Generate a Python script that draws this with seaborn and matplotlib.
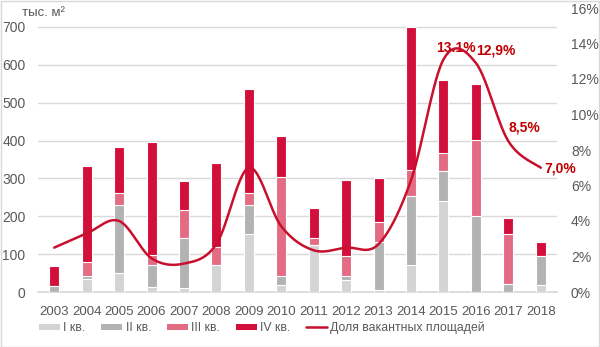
import numpy as np
import pandas as pd
import matplotlib
matplotlib.use("Agg")
import matplotlib.pyplot as plt
import seaborn as sns
from matplotlib.patches import Patch, Rectangle
from matplotlib.lines import Line2D

# ---- data -------------------------------------------------------------
years = [str(y) for y in range(2003, 2019)]
q1 = [0, 34, 50, 13, 11, 70, 153, 18, 125, 33, 6, 70, 240, 0, 0, 18]
q2 = [15, 7, 181, 57, 132, 0, 77, 25, 0, 10, 125, 183, 79, 200, 22, 78]
q3 = [0, 37, 31, 28, 73, 50, 32, 262, 17, 51, 53, 68, 48, 201, 130, 0]
q4 = [53, 254, 121, 297, 76, 220, 275, 107, 81, 202, 117, 379, 192, 147, 44, 37]
vacancy = [2.5, 3.3, 4.0, 1.9, 1.6, 2.7, 7.0, 3.7, 2.35, 2.5, 2.7, 6.3,
           13.1, 12.9, 8.5, 7.0]
label_years = ["2015", "2016", "2017", "2018"]
label_texts = ["13.1%", "12,9%", "8,5%", "7,0%"]
left_ticks = [0, 100, 200, 300, 400, 500, 600, 700]
right_ticks = [0, 2, 4, 6, 8, 10, 12, 14, 16]
series_names = ["I кв.", "II кв.", "III кв.", "IV кв."]
line_name = "Доля вакантных площадей"

# ---- style ------------------------------------------------------------
sns.set_theme(style="white")
plt.rcParams["font.family"] = ["Liberation Sans", "DejaVu Sans"]
TXT = "#595959"
GRID = "#D9D9D9"
colors = ["#D4D4D4", "#B3B3B3", "#E36C84", "#D20F3A"]
LINE = "#C8102E"
LABEL = "#C00000"

fig = plt.figure(figsize=(6.0, 3.47), dpi=100)
ax = fig.add_axes([38 / 600, 55 / 347, (557 - 38) / 600, (292 - 8) / 347])

# stacked bars: draw cumulative totals from the top layer down
df = pd.DataFrame({"year": years, "q1": q1, "q2": q2, "q3": q3, "q4": q4})
df["c1"] = df["q1"]
df["c2"] = df["c1"] + df["q2"]
df["c3"] = df["c2"] + df["q3"]
df["c4"] = df["c3"] + df["q4"]
for col, colr in zip(["c4", "c3", "c2", "c1"], colors[::-1]):
    sns.barplot(data=df, x="year", y=col, color=colr, saturation=1,
                width=0.31, edgecolor="white", linewidth=0.8,
                errorbar=None, ax=ax, zorder=3)

ax.set_xlim(-0.5, len(years) - 0.5)
ax.set_ylim(0, 750)
ax.set_yticks(left_ticks)
ax.set_xlabel("")
ax.set_ylabel("")
ax.grid(axis="y", color=GRID, linewidth=1, zorder=0)
ax.set_axisbelow(True)
for s in ["left", "right", "top"]:
    ax.spines[s].set_visible(False)
ax.spines["bottom"].set_color(GRID)
ax.tick_params(axis="both", length=0, colors=TXT, labelsize=10)
ax.tick_params(axis="x", pad=10, labelsize=9.5)
ax.tick_params(axis="y", pad=9)

# smoothed vacancy line on the secondary axis
ax2 = ax.twinx()
xs = np.arange(len(years), dtype=float)
ys = np.array(vacancy, dtype=float)


def smooth_curve(x, y, n=30):
    px, py = [], []
    N = len(x)
    for i in range(N - 1):
        i0 = max(i - 1, 0)
        i3 = min(i + 2, N - 1)
        p0 = np.array([x[i0], y[i0]])
        p1 = np.array([x[i], y[i]])
        p2 = np.array([x[i + 1], y[i + 1]])
        p3 = np.array([x[i3], y[i3]])
        c1 = p1 + (p2 - p0) / 6
        c2 = p2 - (p3 - p1) / 6
        t = np.linspace(0, 1, n)[:, None]
        pts = ((1 - t) ** 3) * p1 + 3 * ((1 - t) ** 2) * t * c1 \
            + 3 * (1 - t) * t ** 2 * c2 + t ** 3 * p2
        px.extend(pts[:, 0])
        py.extend(pts[:, 1])
    return np.array(px), np.array(py)


sx, sy = smooth_curve(xs, ys)
ax2.plot(sx, sy, color=LINE, linewidth=1.8, solid_capstyle="round", zorder=4)
ax2.set_ylim(0, 16)
ax2.set_yticks(right_ticks)
ax2.set_yticklabels([f"{v}%" for v in right_ticks])
ax2.tick_params(axis="y", length=0, colors=TXT, labelsize=10, pad=10)
ax2.grid(False)
for s in ax2.spines.values():
    s.set_visible(False)

offsets = [(12, 11), (20, 13), (16, 14), (19, -1)]
for yr, txt, off in zip(label_years, label_texts, offsets):
    i = years.index(yr)
    ax2.annotate(txt, (xs[i], ys[i]), xytext=off, textcoords="offset pixels",
                 ha="center", va="center", color=LABEL, fontsize=10,
                 fontweight="bold")

fig.text(22 / 600, 1 - 13 / 347, "тыс. м²", color=TXT, fontsize=9.5,
         ha="left", va="center")

handles = [Patch(facecolor=c, edgecolor="none") for c in colors]
handles.append(Line2D([], [], color=LINE, linewidth=1.8))
fig.legend(handles, series_names + [line_name], loc="center",
           bbox_to_anchor=(262 / 600, 1 - 328 / 347), ncol=5, frameon=False,
           fontsize=8.8, handlelength=1.72, handleheight=0.45,
           handletextpad=0.25, columnspacing=1.3, labelcolor=TXT)

fig.patches.append(Rectangle((0.001, 0.001), 0.997, 0.996,
                             transform=fig.transFigure, fill=False,
                             edgecolor=GRID, linewidth=1))

fig.savefig("out.png", dpi=100, facecolor="white")
